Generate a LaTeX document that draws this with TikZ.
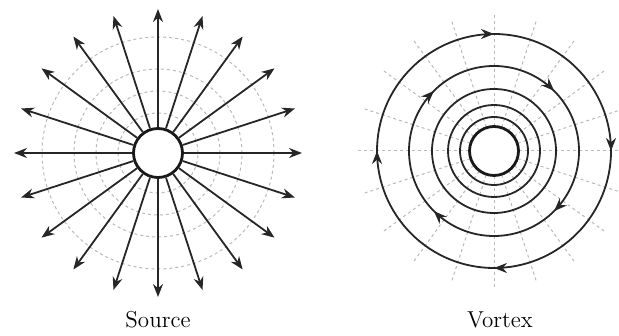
\documentclass[tikz,border=0pt]{standalone}
\usepackage{amsmath}
\usetikzlibrary{arrows.meta,decorations.markings}

\begin{document}
\begin{tikzpicture}[x=0.5pt,y=0.5pt,>={Stealth[length=6.5pt,width=5pt]},
  grid/.style={gray!55,line width=0.5pt,dash pattern=on 1.5pt off 1.5pt},
  field/.style={black!85,line width=0.9pt},
  core/.style={circle,draw=black!90,line width=1.4pt,fill=white,inner sep=0pt,minimum size=24.5pt},
  flowfour/.style={decoration={markings,mark=between positions 0.125 and 1 step 0.25 with {\arrow{>}}},postaction={decorate}}]
  \useasboundingbox (0,0) rectangle (619,336);
  % source
  \coordinate (sc) at (158,183);
  \foreach \r in {40,62,84,116}
    \draw[grid] (sc) circle (\r);
  \node[core] (score) at (sc) {};
  \foreach \a in {0,18,...,342} {
    \path (sc) ++(\a:144) coordinate (s\a);
    \draw[field,->] (score) -- (s\a);
  }
  % vortex
  \coordinate (vc) at (494,185);
  \foreach \a in {0,18,...,342}
    \draw[grid] ([shift={(\a:25)}]vc) -- ([shift={(\a:137)}]vc);
  \foreach \r in {34,46,62}
    \draw[field] (vc) circle (\r);
  \draw[field,flowfour] ([shift={(90:85)}]vc) arc[start angle=90,end angle=-270,radius=85];
  \draw[field,flowfour] ([shift={(45:117)}]vc) arc[start angle=45,end angle=-315,radius=117];
  \node[core] (vcore) at (vc) {};
  % labels
  \node[font=\fontsize{11.5}{14}\selectfont,anchor=base] (slabel) at (158,8) {Source};
  \node[font=\fontsize{11.5}{14}\selectfont,anchor=base] (vlabel) at (500,8) {Vortex};
\end{tikzpicture}
\end{document}
